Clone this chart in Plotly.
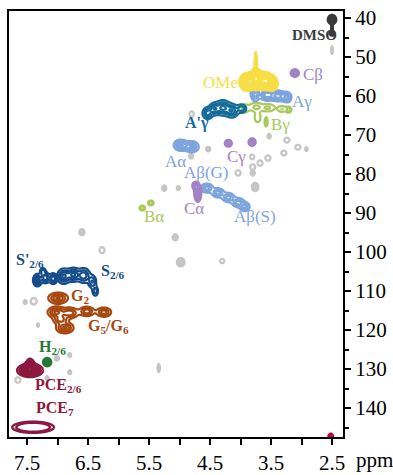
import numpy as np
import plotly.graph_objects as go

# HSQC cross-peaks: (dH ppm, dC ppm, width dH, width dC, relative intensity)
DMSO = [(2.50, 40.4, 0.036, 0.62, 1.0), (2.50, 42.3, 0.009, 0.8, 0.45),
        (2.50, 43.9, 0.030, 0.45, 0.40)]
OME = [(3.90, 56.4, 0.065, 1.2, 0.85), (3.74, 55.9, 0.07, 1.3, 1.0),
       (3.58, 56.2, 0.065, 1.2, 0.9), (3.47, 56.8, 0.045, 1.0, 0.7),
       (3.75, 52.0, 0.011, 2.0, 0.6), (3.75, 54.3, 0.03, 0.9, 0.5)]
A_GAMMA = [(3.76, 59.0, 0.045, 1.4, 0.8), (3.56, 59.7, 0.07, 0.85, 1.0),
           (3.38, 60.0, 0.065, 0.8, 0.9), (3.24, 60.3, 0.045, 0.8, 0.8)]
A_ALPHA = [(4.98, 72.6, 0.065, 0.8, 1.0), (4.80, 73.0, 0.065, 0.8, 1.0)]
A_BETA = [(4.55, 83.6, 0.06, 0.7, 1.0), (4.37, 84.8, 0.06, 0.7, 1.0),
          (4.20, 86.0, 0.06, 0.7, 1.0), (4.04, 87.3, 0.06, 0.7, 1.0),
          (3.93, 88.4, 0.05, 0.7, 0.9)]
A_GAMMA_ACYL = [(4.54, 64.4, 0.05, 0.9, 0.8), (4.43, 63.3, 0.05, 0.9, 0.8),
                (4.29, 63.0, 0.07, 1.1, 1.0), (4.14, 63.8, 0.06, 1.0, 0.9),
                (3.98, 63.2, 0.05, 0.7, 0.6)]
B_GAMMA = [(3.95, 63.2, 0.06, 0.8, 0.5), (3.75, 62.8, 0.07, 0.8, 0.5),
           (3.55, 63.0, 0.08, 0.7, 0.5), (3.32, 63.3, 0.05, 0.6, 0.45),
           (3.21, 63.5, 0.03, 0.5, 0.6), (3.72, 65.5, 0.04, 1.0, 0.4),
           (3.58, 66.6, 0.015, 0.7, 0.8)]
B_ALPHA = [(5.61, 88.7, 0.03, 0.4, 1.0), (5.47, 87.4, 0.03, 0.4, 1.0)]
C_PEAKS = [(3.11, 54.1, 0.035, 0.5, 1.0), (4.20, 72.1, 0.03, 0.45, 1.0),
           (3.81, 71.8, 0.03, 0.5, 1.0), (4.70, 84.8, 0.03, 1.2, 1.0),
           (4.74, 83.0, 0.03, 0.6, 0.6)]
S_PRIME = [(7.33, 107.2, 0.04, 0.9, 1.0), (7.20, 106.6, 0.04, 0.8, 0.9),
           (7.07, 106.8, 0.04, 0.8, 0.9), (7.24, 105.0, 0.03, 0.6, 0.6)]
S_26 = [(6.90, 106.2, 0.06, 1.1, 1.0), (6.74, 105.8, 0.06, 1.0, 1.0),
        (6.57, 106.0, 0.06, 1.1, 0.9), (6.43, 107.6, 0.04, 1.0, 0.7),
        (6.38, 110.0, 0.03, 0.8, 0.6)]
G_UNITS = [(6.99, 111.8, 0.09, 0.8, 1.0), (7.02, 115.4, 0.08, 0.8, 1.0),
           (6.80, 115.6, 0.08, 0.8, 0.9), (6.52, 115.2, 0.07, 0.7, 0.9),
           (6.24, 115.4, 0.07, 0.7, 0.85), (6.95, 117.3, 0.07, 0.7, 0.8),
           (6.88, 119.4, 0.08, 0.8, 1.0)]
H_26 = [(7.17, 128.2, 0.035, 0.55, 1.0)]
PCE_26 = [(7.45, 130.3, 0.11, 0.9, 1.0), (7.45, 129.0, 0.04, 1.0, 0.6)]
PCE_7 = [(7.40, 144.9, 0.19, 0.8, 1.0)]
EDGE = [(2.52, 147.3, 0.02, 0.4, 1.0)]
GRAY_DOTS = [(2.50, 48.2, 0.010, 0.55), (3.53, 70.3, 0.015, 0.35),
             (2.92, 73.6, 0.012, 0.3), (4.53, 73.6, 0.02, 0.35),
             (4.81, 75.4, 0.02, 0.35), (3.80, 79.7, 0.02, 0.4),
             (3.76, 83.3, 0.03, 0.6), (5.25, 83.6, 0.02, 0.4),
             (5.02, 83.6, 0.015, 0.3), (5.07, 96.2, 0.025, 0.45),
             (4.98, 102.6, 0.035, 0.6), (6.60, 94.9, 0.025, 0.45),
             (5.34, 129.7, 0.012, 0.6), (7.53, 112.8, 0.015, 0.3),
             (7.32, 118.7, 0.012, 0.25), (7.01, 127.2, 0.02, 0.35),
             (6.80, 126.4, 0.015, 0.3), (6.80, 130.8, 0.015, 0.3),
             (7.17, 132.3, 0.015, 0.3)]
GRAY_RINGS = [(4.80, 64.6, 0.025, 0.5), (3.24, 71.3, 0.03, 0.45),
              (3.06, 73.1, 0.03, 0.45), (3.29, 74.6, 0.03, 0.45),
              (3.81, 75.6, 0.025, 0.45), (3.80, 78.2, 0.03, 0.5),
              (3.68, 77.2, 0.03, 0.5), (3.55, 75.9, 0.03, 0.5),
              (4.04, 79.7, 0.03, 0.5), (4.30, 102.3, 0.025, 0.4),
              (6.27, 99.5, 0.03, 0.55), (7.39, 112.6, 0.035, 0.6),
              (7.65, 132.8, 0.03, 0.5)]

SERIF = "Liberation Serif"


def field(peaks):
    P = np.array(peaks, dtype=float)
    h, c, wh, wc, a = P.T
    step_h = min(0.006, wh.min() / 3)
    step_c = min(0.1, wc.min() / 3)
    H = np.arange((h - 4 * wh).min(), (h + 4 * wh).max(), step_h)
    C = np.arange((c - 4 * wc).min(), (c + 4 * wc).max(), step_c)
    HH, CC = np.meshgrid(H, C)
    Z = np.zeros_like(HH)
    for hi, ci, whi, wci, ai in P:
        Z += ai * np.exp(-0.5 * ((HH - hi) / whi) ** 2 - 0.5 * ((CC - ci) / wci) ** 2)
    return np.round(H, 4), np.round(C, 3), np.round(Z, 3)


def contour(peaks, color, start, end, size, width=2.2):
    H, C, Z = field(peaks)
    return go.Contour(
        x=H, y=C, z=Z, autocontour=False,
        contours=dict(coloring="lines", start=start, end=end, size=size),
        line=dict(width=width, smoothing=1),
        colorscale=[[0, color], [1, color]], showscale=False,
        hoverinfo="skip")


fig = go.Figure()

GRAY = "#c6c6c6"
for h, c, wh, wc in GRAY_DOTS:
    fig.add_trace(contour([(h, c, wh, wc, 1.0)], GRAY, 0.15, 0.96, 0.1, 1.5))
for h, c, wh, wc in GRAY_RINGS:
    fig.add_trace(contour([(h, c, wh, wc, 1.0)], GRAY, 0.3, 0.5, 0.2, 1.6))

fig.add_trace(contour(DMSO, "#3b3b3b", 0.15, 0.96, 0.12))
fig.add_trace(contour(EDGE, "#b0103a", 0.15, 0.96, 0.15))
fig.add_trace(contour(B_GAMMA, "#a9c95b", 0.2, 0.7, 0.25))
fig.add_trace(contour(A_GAMMA, "#7da4dc", 0.2, 0.96, 0.2))
fig.add_trace(contour(OME, "#f6de45", 0.15, 1.2, 0.11))
fig.add_trace(contour(A_GAMMA_ACYL, "#12699a", 0.2, 0.96, 0.25))
fig.add_trace(contour(A_ALPHA, "#7da4dc", 0.2, 0.96, 0.25))
fig.add_trace(contour(A_BETA, "#7da4dc", 0.25, 0.96, 0.3))
fig.add_trace(contour(B_ALPHA, "#a9c95b", 0.3, 0.6, 0.3))
fig.add_trace(contour(C_PEAKS, "#a383c4", 0.15, 0.96, 0.13))
fig.add_trace(contour(S_PRIME, "#134c88", 0.2, 0.96, 0.25))
fig.add_trace(contour(S_26, "#134c88", 0.2, 0.96, 0.25))
fig.add_trace(contour(G_UNITS, "#a6470f", 0.2, 0.96, 0.25))
fig.add_trace(contour(H_26, "#24783a", 0.15, 0.96, 0.2))
fig.add_trace(contour(PCE_26, "#8b1a3e", 0.15, 1.3, 0.12))
fig.add_trace(contour(PCE_7, "#8b1a3e", 0.2, 0.4, 0.15, 2.4))

# Assignment labels
labels = [
    ("<b>DMSO</b>", 2.795, 44.4, "#3b3b3b", 15),
    ("OMe", 4.32, 56.4, "#f6de45", 17),
    ("Cβ", 2.81, 54.6, "#a383c4", 17),
    ("Aγ", 2.99, 61.3, "#7da4dc", 17),
    ("<b>A'γ</b>", 4.71, 66.8, "#12699a", 16),
    ("Bγ", 3.34, 67.2, "#a9c95b", 17),
    ("Aα", 5.06, 76.7, "#7da4dc", 17),
    ("Cγ", 4.07, 75.4, "#a383c4", 17),
    ("Aβ(G)", 4.55, 79.7, "#7da4dc", 17),
    ("Cα", 4.76, 88.7, "#a383c4", 17),
    ("Aβ(S)", 3.76, 90.8, "#7da4dc", 17),
    ("Bα", 5.42, 91.0, "#a9c95b", 17),
    ("<b>S'<sub>2/6</sub></b>", 7.45, 102.1, "#134c88", 16),
    ("<b>S<sub>2/6</sub></b>", 6.09, 104.9, "#134c88", 16),
    ("<b>G<sub>2</sub></b>", 6.63, 111.5, "#a6470f", 16),
    ("<b>G<sub>5</sub>/G<sub>6</sub></b>", 6.17, 119.0, "#a6470f", 16),
    ("<b>H<sub>2/6</sub></b>", 7.09, 124.4, "#24783a", 16),
    ("<b>PCE<sub>2/6</sub></b>", 6.99, 134.1, "#8b1a3e", 16),
    ("<b>PCE<sub>7</sub></b>", 7.04, 140.0, "#8b1a3e", 16),
]
for text, h, c, color, size in labels:
    fig.add_annotation(x=h, y=c, xref="x", yref="y", text=text, showarrow=False,
                       font=dict(family=SERIF, size=size, color=color),
                       xanchor="center", yanchor="middle")

fig.add_annotation(x=1.095, y=-0.055, xref="paper", yref="paper", text="ppm",
                   showarrow=False, font=dict(family=SERIF, size=21, color="black"),
                   xanchor="center", yanchor="middle")

X_TICKS = [7.5, 6.5, 5.5, 4.5, 3.5, 2.5]
X_MINOR = [7.0, 6.0, 5.0, 4.0, 3.0]
Y_TICKS = list(range(40, 150, 10))
Y_MINOR = list(range(45, 150, 10))

axis_common = dict(showgrid=False, zeroline=False, showline=True, linecolor="black",
                   linewidth=2, mirror=True, ticks="outside", tickcolor="black",
                   tickwidth=1.5, automargin=False,
                   tickfont=dict(family=SERIF, size=21, color="black"))

fig.update_xaxes(range=[7.795, 2.32], tickmode="array", tickvals=X_TICKS,
                 ticktext=[f"{v:.1f}" for v in X_TICKS], ticklen=6,
                 minor=dict(tickvals=X_MINOR, ticks="outside", ticklen=6,
                            tickwidth=1.5, tickcolor="black"),
                 **axis_common)
fig.update_yaxes(range=[147.4, 38.2], side="right", tickmode="array",
                 tickvals=Y_TICKS, ticklen=6,
                 minor=dict(tickvals=Y_MINOR, ticks="outside", ticklen=4,
                            tickwidth=1.5, tickcolor="black"),
                 **axis_common)

fig.update_layout(width=393, height=475, margin=dict(l=9, r=50, t=11, b=38),
                  paper_bgcolor="white", plot_bgcolor="white", showlegend=False)

fig.write_html("out.html")
